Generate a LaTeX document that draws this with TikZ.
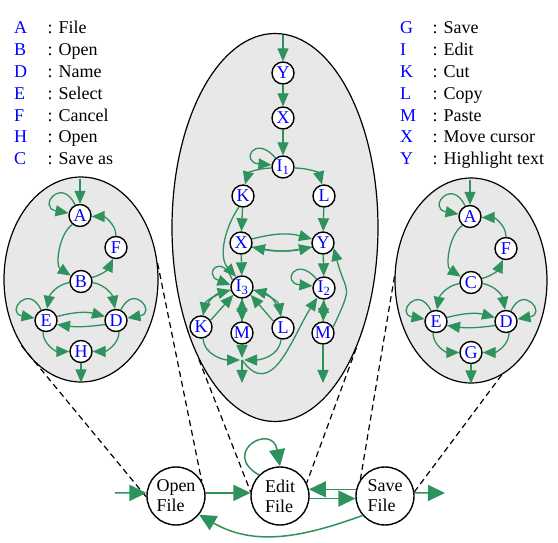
\documentclass[tikz,border=0pt]{standalone}
\usepackage{fontspec}
\setmainfont{Liberation Serif}
\usetikzlibrary{arrows.meta,shapes.geometric}
\definecolor{edgegreen}{RGB}{46,146,92}
\definecolor{bubblegray}{RGB}{232,232,232}
\definecolor{letterblue}{RGB}{0,0,255}
\tikzset{
  st/.style={circle,draw=black,line width=1.4pt,fill=white,minimum size=22pt,inner sep=0pt,text=letterblue,font=\fontsize{18}{18}\selectfont},
  bigst/.style={circle,draw=black,line width=1.4pt,fill=white,minimum size=58pt,inner sep=0pt,align=left,font=\fontsize{18}{20}\selectfont},
  bubble/.style={ellipse,draw=black,line width=1.2pt,fill=bubblegray,inner sep=0pt},
  arr/.style={draw=edgegreen,line width=1.3pt,-{Triangle[length=13pt,width=11pt]}},
  bigarr/.style={draw=edgegreen,line width=1.5pt,-{Triangle[length=17pt,width=16pt]}},
  dline/.style={draw=black,line width=1.2pt,dash pattern=on 6pt off 4pt},
  legl/.style={anchor=base west,inner sep=0pt,text=letterblue,font=\fontsize{18}{18}\selectfont},
  legt/.style={anchor=base west,inner sep=0pt,font=\fontsize{18}{18}\selectfont},
}
\newcommand{\sidegraph}[5]{%
\begin{scope}[shift={(#2,#3)}]
\node[st] (#1A) at (-1,64) {A};
\node[st] (#1F) at (35,32) {F};
\node[st] (#1B) at (0,-2) {#4};
\node[st] (#1E) at (-35,-41) {E};
\node[st] (#1D) at (35,-41) {D};
\node[st] (#1H) at (0,-72) {#5};
\coordinate (#1in) at (-1,100);
\coordinate (#1out) at (0,-103);
\draw[arr] (#1in) -- (#1A);
\draw[arr] (#1A.115) .. controls +(115:32) and +(170:32) .. (#1A.168);
\draw[arr] (#1A.230) .. controls (-22,46) and (-26,14) .. (#1B.150);
\draw[arr] (#1B.20) to[out=15,in=245] (#1F.255);
\draw[arr] (#1F.90) to[out=90,in=0] (#1A.-5);
\draw[arr] (#1B.185) to[out=190,in=80] (#1E.85);
\draw[arr] (#1B.-5) to[out=-10,in=100] (#1D.95);
\draw[arr] (#1E.115) .. controls +(115:30) and +(170:30) .. (#1E.168);
\draw[arr] (#1D.65) .. controls +(65:30) and +(10:30) .. (#1D.12);
\draw[arr] (#1E.20) to[bend left=15] (#1D.160);
\draw[arr] (#1D.200) to[bend left=8] (#1E.-20);
\draw[arr] (#1E.255) to[out=270,in=180] (#1H.180);
\draw[arr] (#1D.285) to[out=270,in=0] (#1H.0);
\draw[arr] (#1H) -- (#1out);
\end{scope}}
\begin{document}
\begin{tikzpicture}[x=1pt,y=1pt]
\useasboundingbox (0,0) rectangle (558,542);
% legends
\foreach \L/\T [count=\i] in {A/File,B/Open,D/Name,E/Select,F/Cancel,H/Open,C/Save as}{
  \node[legl] (lla\i) at (14,{508-21.8*(\i-1)}) {\L};
  \node[legt] (llt\i) at (47.5,{508-21.8*(\i-1)}) {: \T};
}
\foreach \L/\T [count=\i] in {G/Save,I/Edit,K/Cut,L/Copy,M/Paste,X/Move cursor,Y/Highlight text}{
  \node[legl] (rla\i) at (400,{508-21.8*(\i-1)}) {\L};
  \node[legt] (rlt\i) at (432.5,{508-21.8*(\i-1)}) {: \T};
}
% bubbles
\node[bubble,minimum width=154pt,minimum height=205pt] (lbub) at (81,262.5) {};
\node[bubble,minimum width=152pt,minimum height=205pt] (rbub) at (471,261.5) {};
\node[bubble,minimum width=206pt,minimum height=388pt] (mbub) at (275,314.5) {};
% bottom machine
\node[bigst] (open) at (176,46) {Open\\File};
\node[bigst] (edit) at (280,46) {Edit\\File};
\node[bigst] (save) at (385,46) {Save\\File};
% dashed zoom lines
\draw[dline] (lbub.228) -- (open.182);
\draw[dline] (lbub.12) -- (open.30);
\draw[dline] (mbub.240) -- (edit.172);
\draw[dline] (mbub.304) -- (edit.26);
\draw[dline] (rbub.177) -- (save.146);
\draw[dline] (rbub.288) -- (save.8);
% side graphs
\sidegraph{l}{81}{262.5}{B}{H}
\sidegraph{r}{471}{261.5}{C}{G}
% middle graph
\node[st] (mY) at (283,469) {Y};
\node[st] (mX) at (283,424) {X};
\node[st] (mI1) at (283,375) {I\textsubscript{1}};
\node[st] (mK) at (243,346) {K};
\node[st] (mL) at (324,346) {L};
\node[st] (mX2) at (241,299) {X};
\node[st] (mY2) at (323,299) {Y};
\node[st] (mI3) at (242,255) {I\textsubscript{3}};
\node[st] (mI2) at (324,254) {I\textsubscript{2}};
\node[st] (mK2) at (201,215) {K};
\node[st] (mM) at (242,209) {M};
\node[st] (mL2) at (283,214) {L};
\node[st] (mM2) at (323,209) {M};
\coordinate (min) at (283,507);
\coordinate (mP) at (242,182);
\coordinate (mPout) at (242,159);
\coordinate (mM2out) at (323,159);
\draw[arr] (min) -- (mY);
\draw[arr] (mY) -- (mX);
\draw[arr] (mX) -- (mI1);
\draw[arr] (mI1.130) .. controls +(130:32) and +(175:32) .. (mI1.170);
\draw[arr] (mI1.185) to[out=180,in=75] (mK.80);
\draw[arr] (mI1.-5) to[out=0,in=105] (mL.100);
\draw[arr] (mK) -- (mX2);
\draw[arr] (mL) -- (mY2);
\draw[arr] (mX2.20) to[bend left=15] (mY2.160);
\draw[arr] (mY2.200) to[bend left=12] (mX2.-20);
\draw[arr] (mX2.-20) to[bend right=12] (mY2.200);
\draw[arr] (mX2) -- (mI3);
\draw[arr] (mK.250) .. controls (225,315) and (218,285) .. (mI3.120);
\draw[arr] (mI3.145) .. controls (222,290) and (202,268) .. (mI3.170);
\draw[arr] (mI3.195) to[out=195,in=80] (mK2.80);
\draw[arr] (mK2.80) to[out=80,in=195] (mI3.195);
\draw[arr] (mK2.35) -- (mI3.222);
\draw[arr] (mI3.-15) to[out=-15,in=100] (mL2.100);
\draw[arr] (mL2.100) to[out=100,in=-15] (mI3.-15);
\draw[arr] (mL2.145) -- (mI3.-42);
\draw[arr] (mI3) -- (mM);
\draw[arr] (mM) -- (mI3);
\draw[arr,shorten >=2pt] (mK2.280) to[out=275,in=180] (mP);
\draw[arr,shorten >=2pt] (mL2.260) to[out=265,in=0] (mP);
\draw[arr,shorten >=2pt] (mM) -- (mP);
\draw[arr] (mP) -- (mPout);
\draw[arr] (mP) .. controls (272,140) and (292,205) .. (mI2.235);
\draw[arr] (mI2.130) .. controls +(130:32) and +(175:32) .. (mI2.170);
\draw[arr] (mY2) -- (mI2);
\draw[arr] (mI2) -- (mM2);
\draw[arr] (mM2) -- (mI2);
\draw[arr] (mM2.30) to[out=65,in=285,looseness=1.6] (mY2.-25);
\draw[arr] (mM2) -- (mM2out);
% bottom edges
\coordinate (bin) at (115,49);
\coordinate (bout) at (445,49);
\draw[bigarr] (bin) -- (open.174);
\draw[bigarr] (open.6) -- (edit.174);
\draw[bigarr] (edit.135) .. controls +(150:45) and +(100:45) .. (edit.90);
\draw[bigarr] (save.167) -- (edit.13);
\draw[bigarr] (edit.-5) -- (save.185);
\draw[bigarr] (save.6) -- (bout);
\draw[bigarr] (save.221) to[out=200,in=-30] (open.-39);
\end{tikzpicture}
\end{document}
